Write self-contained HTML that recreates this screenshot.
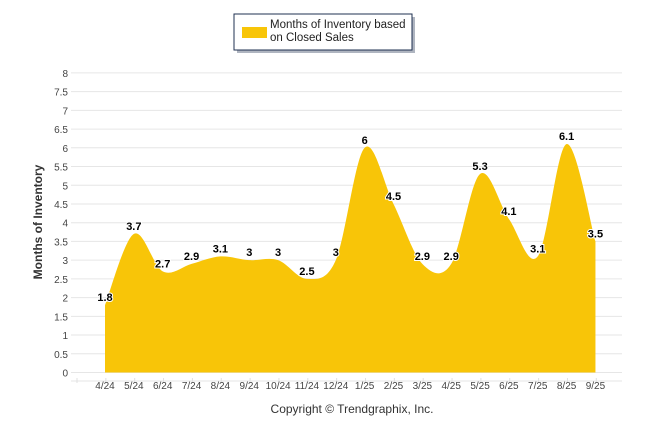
<!DOCTYPE html>
<html><head><meta charset="utf-8"><style>
body{margin:0;background:#fff;width:646px;height:434px;overflow:hidden;font-family:"Liberation Sans",sans-serif}
</style></head><body>
<svg width="646" height="434" xmlns="http://www.w3.org/2000/svg">
<g>
<rect x="235" y="15" width="178" height="36" fill="#1a2a4a" opacity="0.35" transform="translate(2,2)"/>
<rect x="234" y="14" width="178" height="36" fill="#fff" stroke="#1f3050" stroke-width="1"/>
<rect x="242" y="27" width="25" height="11" fill="#f8c508"/>
<text x="270" y="28" font-size="11.5" fill="#222">Months of Inventory based</text>
<text x="270" y="41" font-size="11.5" fill="#222">on Closed Sales</text>
</g>
<g id="grid"></g>
<g id="area"></g>
<g id="labels"></g>
<text transform="translate(42,222) rotate(-90)" text-anchor="middle" font-size="12" font-weight="bold" fill="#333">Months of Inventory</text>
<text x="352" y="413" text-anchor="middle" font-size="12" fill="#333">Copyright © Trendgraphix, Inc.</text>
</svg>
<script>
const categories=["4/24","5/24","6/24","7/24","8/24","9/24","10/24","11/24","12/24","1/25","2/25","3/25","4/25","5/25","6/25","7/25","8/25","9/25"];
const values=[1.8,3.7,2.7,2.9,3.1,3,3,2.5,3,6,4.5,2.9,2.9,5.3,4.1,3.1,6.1,3.5];
const yTicks=[0,0.5,1,1.5,2,2.5,3,3.5,4,4.5,5,5.5,6,6.5,7,7.5,8];
const NS="http://www.w3.org/2000/svg";
const x=i=>105+i*28.85;
const y=v=>372.5-v*37.45;
function mk(t,a,p){const e=document.createElementNS(NS,t);for(const k in a)e.setAttribute(k,a[k]);p.appendChild(e);return e;}
const grid=document.getElementById('grid');
yTicks.forEach(t=>{
 const l=mk('line',{x1:71,x2:622,y1:y(t),y2:y(t),stroke:'#e6e6e6'},grid);
 
 
 const tx=mk('text',{x:68,y:y(t)+4,'text-anchor':'end','font-size':'10',fill:'#444'},grid);
 
 
 tx.textContent=t;
});
mk('line',{x1:71,x2:622,y1:381,y2:381,stroke:'#e6e6e6'},grid);
for(let i=0;i<=categories.length;i++){mk('line',{x1:x(i)-28,x2:x(i)-28,y1:378,y2:383,stroke:'#e0e0e0'},grid);}
categories.forEach((c,i)=>{
 const tx=mk('text',{x:x(i),y:389,'text-anchor':'middle','font-size':'10',fill:'#444'},grid);
 
 
 tx.textContent=c;
});
const pts=values.map((v,i)=>[x(i),y(v)]);
let d=`M${pts[0][0]},${y(0)} L${pts[0][0]},${pts[0][1]}`;
const s=1/6;
for(let i=0;i<pts.length-1;i++){
 const p0=pts[Math.max(0,i-1)],p1=pts[i],p2=pts[i+1],p3=pts[Math.min(pts.length-1,i+2)];
 const c1=[p1[0]+(p2[0]-p0[0])*s,p1[1]+(p2[1]-p0[1])*s];
 const c2=[p2[0]-(p3[0]-p1[0])*s,p2[1]-(p3[1]-p1[1])*s];
 d+=` C${c1[0]},${c1[1]} ${c2[0]},${c2[1]} ${p2[0]},${p2[1]}`;
}
d+=` L${pts[pts.length-1][0]},${y(0)} Z`;
const a=mk('path',{d:d,fill:'#f8c508'},document.getElementById('area'));


const lb=document.getElementById('labels');
values.forEach((v,i)=>{
 const t=mk('text',{x:x(i),y:y(v)-4,'text-anchor':'middle','font-size':'11','font-weight':'bold',fill:'#000',stroke:'#fff','stroke-width':'2','paint-order':'stroke'},lb);
 
 
 t.textContent=v;
});
</script>
</body></html>
